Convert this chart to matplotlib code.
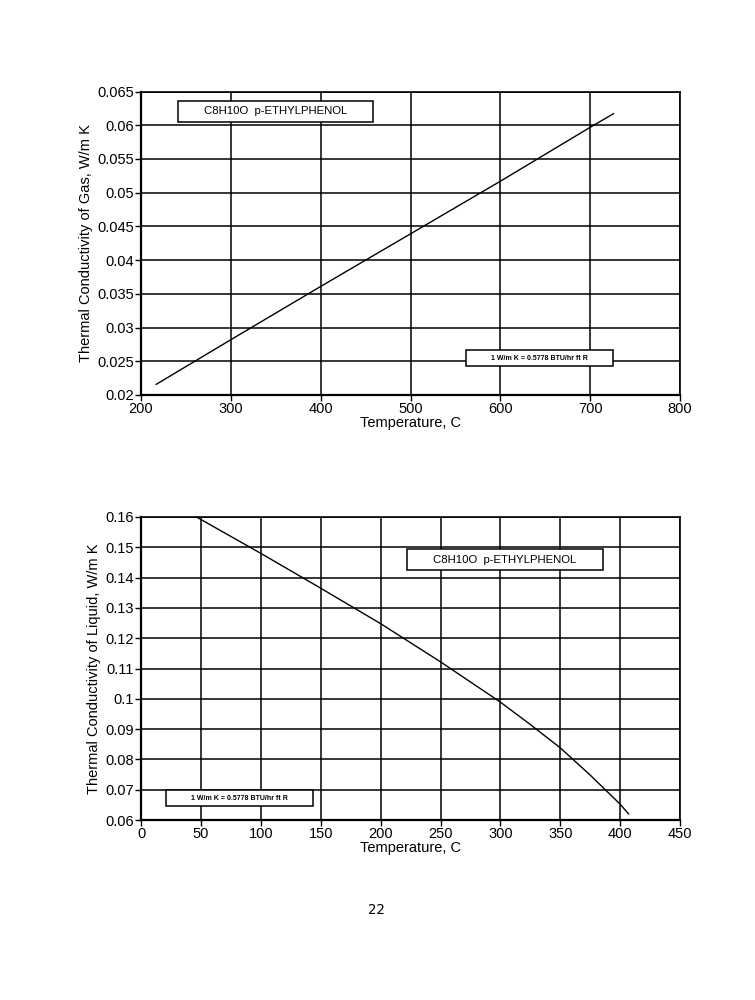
import matplotlib
matplotlib.use("Agg")
import matplotlib.pyplot as plt
from matplotlib.patches import Rectangle
import matplotlib.ticker as ticker

plt.rcParams['font.family'] = ['Liberation Sans', 'DejaVu Sans']

# Gas thermal conductivity
gas_temp = [216.9, 300, 400, 500, 600, 700, 725.8]
gas_k = [0.02158, 0.0282, 0.0361, 0.0439, 0.0517, 0.0597, 0.0617]

# Liquid thermal conductivity
liq_temp = [46.3, 100, 150, 200, 250, 300, 325, 350, 375, 400, 407]
liq_k = [0.160, 0.148, 0.1365, 0.1248, 0.1122, 0.0989, 0.0915, 0.0838, 0.0748, 0.0652, 0.0620]

gas_xticks = [200, 300, 400, 500, 600, 700, 800]
gas_yticks = [0.02, 0.025, 0.03, 0.035, 0.04, 0.045, 0.05, 0.055, 0.06, 0.065]
liq_xticks = [0, 50, 100, 150, 200, 250, 300, 350, 400, 450]
liq_yticks = [0.06, 0.07, 0.08, 0.09, 0.1, 0.11, 0.12, 0.13, 0.14, 0.15, 0.16]

title_text = "C8H10O  p-ETHYLPHENOL"
conv_text = "1 W/m K = 0.5778 BTU/hr ft R"

fig = plt.figure(figsize=(7.55, 10), dpi=100)
ax1 = fig.add_axes([0.1868, 0.605, 0.714, 0.3035])
ax2 = fig.add_axes([0.1868, 0.180, 0.714, 0.303])


def style_axis(ax, xticks, yticks, ylabel):
    ax.set_xlim(xticks[0], xticks[-1])
    ax.set_ylim(yticks[0], yticks[-1])
    ax.set_xticks(xticks)
    ax.set_yticks(yticks)
    ax.yaxis.set_major_formatter(ticker.FuncFormatter(lambda v, _: f"{v:g}"))
    ax.grid(True, color='black', linewidth=1.1)
    ax.set_axisbelow(True)
    for s in ax.spines.values():
        s.set_color('black')
        s.set_linewidth(1.2)
    ax.spines['left'].set_linewidth(1.6)
    ax.spines['bottom'].set_linewidth(1.6)
    ax.tick_params(direction='out', length=4, width=1, labelsize=10.5, pad=1)
    ax.set_xlabel("Temperature, C", fontsize=10.5, labelpad=0)
    ax.set_ylabel(ylabel, fontsize=10.5, labelpad=3)


def add_box(ax, x0, y0, x1, y1, text, size, weight='normal'):
    ax.add_patch(Rectangle((x0, y0), x1 - x0, y1 - y0, transform=ax.transAxes,
                           facecolor='white', edgecolor='black', linewidth=1.1, zorder=5))
    ax.text((x0 + x1) / 2, (y0 + y1) / 2, text, transform=ax.transAxes,
            ha='center', va='center', fontsize=size, fontweight=weight, zorder=6)


# Top chart: gas
ax1.plot(gas_temp, gas_k, color='black', linewidth=1.0, zorder=4)
style_axis(ax1, gas_xticks, gas_yticks, "Thermal Conductivity of Gas, W/m K")
add_box(ax1, 0.0686, 0.8995, 0.4304, 0.969, title_text, 8.2)
add_box(ax1, 0.603, 0.0956, 0.8757, 0.148, conv_text, 5, 'bold')

# Bottom chart: liquid
ax2.plot(liq_temp, liq_k, color='black', linewidth=1.0, zorder=4)
style_axis(ax2, liq_xticks, liq_yticks, "Thermal Conductivity of Liquid, W/m K")
add_box(ax2, 0.4935, 0.825, 0.857, 0.8944, title_text, 8.2)
add_box(ax2, 0.046, 0.046, 0.319, 0.099, conv_text, 5, 'bold')

fig.text(0.499, 0.09, "22", ha='center', va='center', fontsize=10, family='DejaVu Sans Mono')

fig.savefig("out.png", dpi=100)
